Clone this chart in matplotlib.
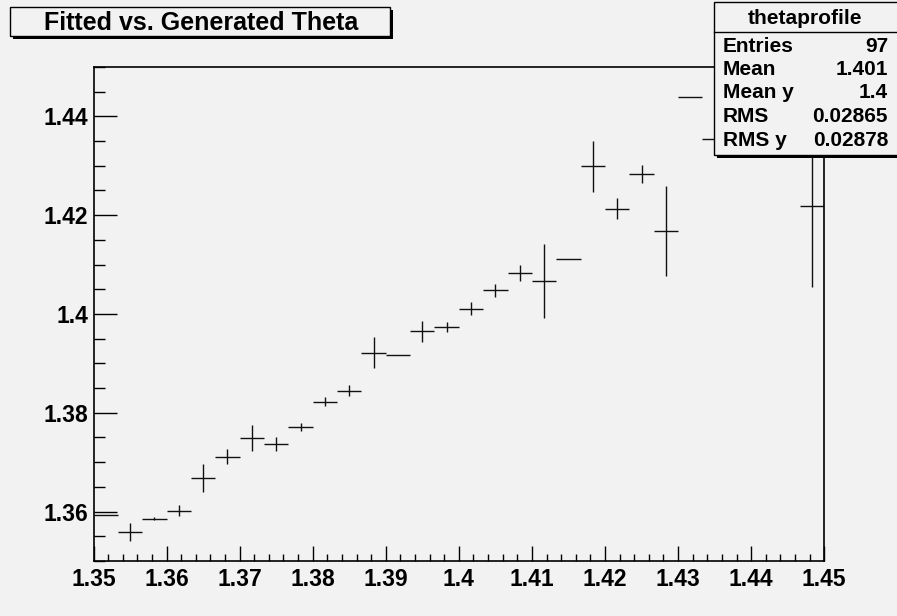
import numpy as np
import matplotlib.pyplot as plt
from matplotlib.patches import Rectangle
from matplotlib.ticker import MultipleLocator, FuncFormatter

W, H = 897, 616
BG = '#f2f2f2'
FONT = 'Liberation Sans'

# profile: mean fitted theta in bins of generated theta
bin_lo, bin_hi, n_bins = 1.35, 1.45, 30
bin_mean = [1.3594, 1.3559, 1.3586, 1.3602, 1.3668, 1.3711, 1.3749, 1.3737,
            1.3772, 1.3822, 1.3845, 1.3922, 1.3917, 1.3965, 1.3974, 1.4011,
            1.4048, 1.4083, 1.4066, 1.4112, 1.4299, 1.4213, 1.4283, 1.4168,
            1.4440, 1.4354, np.nan, np.nan, np.nan, 1.4218]
bin_err = [0.0, 0.0018, 0.0003, 0.0011, 0.0028, 0.0015, 0.0027, 0.0015,
           0.0008, 0.0009, 0.0012, 0.0031, 0.0, 0.0021, 0.0010, 0.0013,
           0.0013, 0.0016, 0.0075, 0.0, 0.0052, 0.0021, 0.0018, 0.0092,
           0.0, 0.0, np.nan, np.nan, np.nan, 0.0163]

title = 'Fitted vs. Generated Theta'
stats_title = 'thetaprofile'
stats_names = ['Entries', 'Mean', 'Mean y', 'RMS', 'RMS y']
stats_values = ['97', '1.401', '1.4', '0.02865', '0.02878']


def fx(px):
    return px / W


def fy(py):
    return 1 - py / H


def pave(fig, x0, y0, x1, y1, shadow=3):
    # box with a drop shadow, pixel coordinates from the top-left corner
    fig.add_artist(Rectangle((fx(x0 + shadow), fy(y1 + shadow)), (x1 - x0) / W,
                             (y1 - y0) / H, transform=fig.transFigure,
                             facecolor='black', edgecolor='none', zorder=5))
    fig.add_artist(Rectangle((fx(x0), fy(y1)), (x1 - x0) / W, (y1 - y0) / H,
                             transform=fig.transFigure, facecolor=BG,
                             edgecolor='black', lw=1.0, zorder=6))


fig = plt.figure(figsize=(W / 100, H / 100), dpi=100, facecolor=BG)
ax = fig.add_axes([fx(93.5), fy(561), (824.2 - 93.5) / W, (561 - 67) / H])
ax.set_facecolor(BG)

edges = np.linspace(bin_lo, bin_hi, n_bins + 1)
centers = 0.5 * (edges[:-1] + edges[1:])
half = 0.5 * (edges[1] - edges[0])
mean = np.array(bin_mean)
err = np.array(bin_err)
ok = ~np.isnan(mean)
ax.errorbar(centers[ok], mean[ok], xerr=half, yerr=err[ok], fmt='none',
            ecolor='#111111', elinewidth=1.0, capsize=0)

ax.set_xlim(bin_lo, bin_hi)
ax.set_ylim(1.35, 1.45)
for s in ax.spines.values():
    s.set_linewidth(1.2)

fmt = FuncFormatter(lambda v, p: '%g' % round(v, 4))
ax.xaxis.set_major_locator(MultipleLocator(0.01))
ax.xaxis.set_minor_locator(MultipleLocator(0.002))
ax.yaxis.set_major_locator(MultipleLocator(0.02))
ax.yaxis.set_minor_locator(MultipleLocator(0.005))
ax.xaxis.set_major_formatter(fmt)
ax.yaxis.set_major_formatter(fmt)
ax.tick_params(axis='x', which='major', direction='in', length=10.5, width=1.0, pad=5)
ax.tick_params(axis='x', which='minor', direction='in', length=5, width=1.0)
ax.tick_params(axis='y', which='major', direction='in', length=16.5, width=1.0, pad=4)
ax.tick_params(axis='y', which='minor', direction='in', length=8, width=1.0)
for lab in ax.get_xticklabels() + ax.get_yticklabels():
    lab.set_fontfamily(FONT)
    lab.set_fontweight('bold')
    lab.set_fontsize(16.5)

# title pave
pave(fig, 10, 7, 390, 36)
fig.text(fx(201), fy(23), title, ha='center', va='center', fontsize=18,
         fontweight='bold', family=FONT, zorder=7)

# statistics box
pave(fig, 714, 2, 900, 155)
fig.add_artist(plt.Line2D([fx(714), fx(897)], [fy(32), fy(32)],
                          transform=fig.transFigure, color='black', lw=1.0, zorder=7))
fig.text(fx(805), fy(18), stats_title, ha='center', va='center', fontsize=15,
         fontweight='bold', family=FONT, zorder=7)
for i, (name, val) in enumerate(zip(stats_names, stats_values)):
    yy = fy(46 + 23.5 * i)
    fig.text(fx(723), yy, name, ha='left', va='center', fontsize=15,
             fontweight='bold', family=FONT, zorder=7)
    fig.text(fx(888), yy, val, ha='right', va='center', fontsize=15,
             fontweight='bold', family=FONT, zorder=7)

fig.savefig('out.png', dpi=100, facecolor=BG)
